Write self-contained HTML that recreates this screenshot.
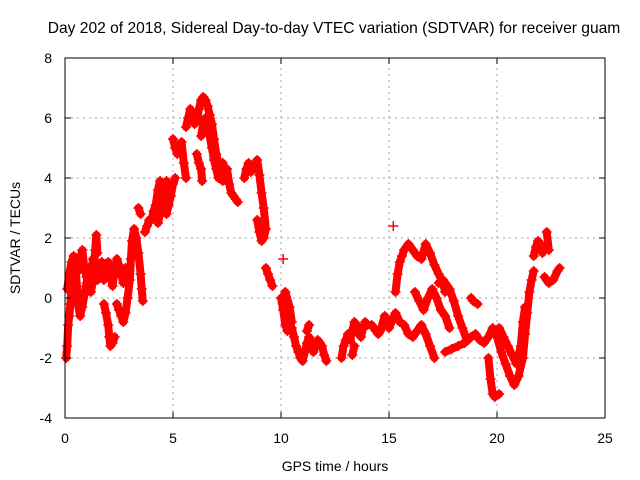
<!DOCTYPE html>
<html><head><meta charset="utf-8"><style>
html,body{margin:0;padding:0;background:#fff}
svg{display:block;font-family:"Liberation Sans",sans-serif}
</style></head><body>
<svg id="chart" width="640" height="480" viewBox="0 0 640 480">
<rect width="640" height="480" fill="#fff"/>
<text x="334" y="33" font-size="15.6" text-anchor="middle">Day 202 of 2018, Sidereal Day-to-day VTEC variation (SDTVAR) for receiver guam</text>
<g id="grid"></g>
<g id="marks"></g>
<rect x="65" y="58" width="540" height="360" fill="none" stroke="#000" stroke-width="1"/>
<g id="ticks"></g>
<text x="335" y="471" font-size="14" text-anchor="middle">GPS time / hours</text>
<text transform="translate(20,238) rotate(-90)" font-size="14" text-anchor="middle">SDTVAR / TECUs</text>
</svg>
<script>
const xTicks = [0,5,10,15,20,25];
const yTicks = [-4,-2,0,2,4,6,8];
// time (hours) / value (TECU); null breaks a trace
const times = [0.05,0.1,0.15,0.2,0.25,0.3,0.35,0.4,0.5,0.55,0.6,0.7,0.8,0.9,1.0,1.1,1.2,1.3,1.4,1.5,1.6,1.7,1.8,null,
0.1,0.2,0.3,0.4,0.5,0.6,0.7,0.8,0.9,1.0,1.1,1.2,1.3,1.4,1.45,1.5,null,
1.8,1.9,2.0,2.05,2.1,2.2,2.3,null,
1.8,1.9,2.0,2.1,2.2,2.3,2.4,2.5,2.6,2.7,2.8,null,
2.4,2.5,2.6,2.7,2.8,2.9,3.0,3.05,3.1,3.2,3.3,3.4,3.5,3.55,3.6,null,
3.7,3.8,3.9,4.0,4.1,4.2,4.3,4.4,4.5,4.6,4.7,4.8,4.9,5.0,5.1,null,
4.3,4.4,4.5,4.6,4.7,4.8,null,
3.4,3.5,null,
5.0,5.1,5.2,5.3,5.4,5.5,5.6,null,
5.6,5.7,5.8,5.9,6.0,6.1,6.2,6.3,6.4,6.5,6.6,6.7,6.8,6.9,7.0,7.1,7.2,7.3,7.4,7.5,7.6,7.7,7.8,7.9,8.0,null,
6.3,6.4,6.5,6.6,6.7,6.8,6.9,7.0,7.1,7.2,7.3,null,
6.1,6.2,6.3,6.35,null,
8.3,8.4,8.5,8.6,8.7,8.8,8.9,9.0,9.1,9.2,9.3,9.2,9.1,9.0,8.9,null,
9.3,9.4,9.5,9.6,null,10.1,null,
10.0,10.1,10.2,10.3,10.4,10.5,10.6,10.7,10.8,10.9,11.0,11.1,11.2,11.3,11.4,11.5,11.6,11.7,11.8,11.9,12.0,12.1,null,
10.2,10.4,10.5,null,11.2,11.3,null,
12.8,12.9,13.0,13.1,13.2,13.3,13.4,13.5,13.6,13.7,13.8,13.9,14.0,14.2,14.4,14.5,14.6,14.8,15.0,15.3,15.5,15.7,15.9,16.1,16.3,16.5,16.7,16.9,17.1,null,
13.3,13.4,null,15.2,null,
15.3,15.4,15.5,15.6,15.7,15.9,16.1,16.3,16.5,16.7,16.9,17.1,17.3,17.5,17.6,null,
16.2,16.4,16.6,16.8,17.0,17.2,17.4,17.6,17.8,null,
17.3,17.5,17.8,18.0,18.2,18.4,18.6,null,
17.6,17.9,18.2,18.5,18.8,19.0,19.2,19.4,19.6,19.8,20.0,20.2,20.4,20.6,20.8,21.0,21.2,21.3,21.4,21.5,21.6,21.7,null,
18.8,18.9,19.1,null,
19.6,19.7,19.8,19.9,20.1,null,
20.1,20.3,20.5,20.7,20.9,21.1,21.2,21.3,null,
21.7,21.8,21.9,22.0,22.1,null,
22.2,22.4,22.6,22.8,22.9,null,22.3,22.4];
const values = [-2.0,-1.6,-0.9,-0.6,-0.2,0.3,0.6,1.0,0.9,0.4,-0.2,-0.6,-0.3,0.1,0.5,1.0,0.8,1.3,1.0,0.6,0.9,1.2,0.9,null,
0.3,0.8,1.2,1.4,1.1,0.9,1.3,1.6,1.0,0.7,0.5,0.2,0.6,1.6,2.1,1.5,null,
-0.2,-0.5,-0.9,-1.3,-1.6,-1.5,-1.3,null,
0.6,1.0,1.2,0.8,0.4,0.9,1.3,1.1,0.8,0.5,1.0,null,
-0.2,-0.4,-0.6,-0.8,-0.5,0.0,0.6,1.3,1.9,2.3,2.0,1.5,0.8,0.3,-0.1,null,
2.2,2.4,2.6,2.6,2.9,3.1,3.6,3.9,3.5,3.0,2.8,3.1,3.4,3.8,4.0,null,
2.5,2.8,3.2,3.6,3.9,3.6,null,
3.0,2.8,null,
5.3,5.0,4.8,5.0,5.2,4.5,4.0,null,
5.7,6.0,6.3,6.1,5.8,5.9,6.3,6.6,6.7,6.6,6.4,6.1,5.8,5.3,4.8,4.5,4.0,3.9,4.2,4.3,3.8,3.5,3.4,3.3,3.2,null,
5.4,5.8,6.0,5.7,5.4,5.0,4.6,4.3,4.0,4.2,4.5,null,
4.8,4.5,4.3,3.9,null,
4.0,4.3,4.5,4.2,4.3,4.5,4.6,4.1,3.5,3.0,2.3,2.0,1.9,2.2,2.6,null,
1.0,0.8,0.6,0.4,null,1.3,null,
0.0,-0.4,-0.9,-1.1,-0.9,-1.0,-1.3,-1.6,-1.8,-2.0,-2.1,-1.8,-1.5,-1.3,-1.5,-1.8,-1.6,-1.4,-1.5,-1.6,-1.9,-2.1,null,
0.2,-0.3,-0.8,null,-1.1,-0.9,null,
-2.0,-1.6,-1.4,-1.2,-1.4,-1.1,-0.8,-0.9,-1.2,-1.3,-1.0,-0.8,-0.9,-0.9,-1.1,-1.2,-1.1,-0.6,-1.0,-0.5,-0.8,-0.9,-1.2,-1.3,-1.1,-0.9,-1.2,-1.6,-2.0,null,
-1.9,-1.6,null,2.4,null,
0.2,0.8,1.2,1.4,1.6,1.8,1.6,1.4,1.3,1.8,1.5,1.1,0.8,0.5,0.2,null,
0.2,-0.1,-0.4,0.0,0.3,0.0,-0.4,-0.6,-1.0,null,
0.5,0.6,0.3,-0.1,-0.6,-1.0,-1.4,null,
-1.8,-1.7,-1.6,-1.5,-1.3,-1.2,-1.4,-1.5,-1.3,-1.0,-1.3,-1.8,-2.2,-2.6,-2.9,-2.6,-2.0,-1.2,-0.5,0.2,0.6,0.9,null,
0.0,-0.1,-0.2,null,
-2.0,-2.7,-3.2,-3.3,-3.2,null,
-1.0,-1.3,-1.6,-1.9,-2.2,-1.6,-0.8,-0.3,null,
1.4,1.7,1.9,1.8,1.5,null,
0.7,0.5,0.6,0.9,1.0,null,2.2,1.6];

const NS='http://www.w3.org/2000/svg';
const X0=65,X1=605,Y0=418,Y1=58;
function xs(t){return X0+(t-0)/(25-0)*(X1-X0);}
function ys(v){return Y0-(v-(-4))/(8-(-4))*(Y0-Y1);}
const grid=document.getElementById('grid'),ticks=document.getElementById('ticks'),marks=document.getElementById('marks');
function mk(tag,parent,attrs){const e=document.createElementNS(NS,tag);for(const k in attrs)e.setAttribute(k,attrs[k]);parent.appendChild(e);return e;}
xTicks.forEach(t=>{
  const x=xs(t);
  if(t>0&&t<25){const g=mk('line',grid,{x1:x,x2:x,y1:Y0,y2:Y1,stroke:'#a0a0a0','stroke-dasharray':'2,4'});
  
  }
  const l=mk('line',ticks,{x1:x,x2:x,y1:Y0,y2:Y0-6,stroke:'#000'});
  
  
  const l2=mk('line',ticks,{x1:x,x2:x,y1:Y1,y2:Y1+6,stroke:'#000'});
  
  
  const tx=mk('text',ticks,{x:x,y:443,'font-size':14,'text-anchor':'middle'});
  tx.textContent=t;
  
  
});
yTicks.forEach(v=>{
  const y=ys(v);
  if(v>-4&&v<8){const g=mk('line',grid,{x1:X0,x2:X1,y1:y,y2:y,stroke:'#a0a0a0','stroke-dasharray':'2,4'});
  
  }
  const l=mk('line',ticks,{x1:X0,x2:X0+6,y1:y,y2:y,stroke:'#000'});
  
  
  const l2=mk('line',ticks,{x1:X1,x2:X1-6,y1:y,y2:y,stroke:'#000'});
  
  
  const tx=mk('text',ticks,{x:52,y:y+5,'font-size':14,'text-anchor':'end'});
  tx.textContent=v;
  
  
});
let seg=[];
function flush(){if(seg.length>1){const p=mk('polyline',marks,{points:seg.join(' '),fill:'none',stroke:'#f00','stroke-width':8,'stroke-linejoin':'round','stroke-linecap':'round'});
  
  }seg=[];}
for(let i=0;i<times.length;i++){
  if(times[i]===null||values[i]===null){flush();continue;}
  seg.push(xs(times[i]).toFixed(1)+','+ys(values[i]).toFixed(1));
}
flush();
for(let i=0;i<times.length;i++){
  if(times[i]===null||values[i]===null)continue;
  const x=xs(times[i]),y=ys(values[i]);
  const p=mk('path',marks,{d:`M${x-5},${y}H${x+5}M${x},${y-5}V${y+5}`,stroke:'#f00','stroke-width':1.5});
  
  
}
</script>
</body></html>
